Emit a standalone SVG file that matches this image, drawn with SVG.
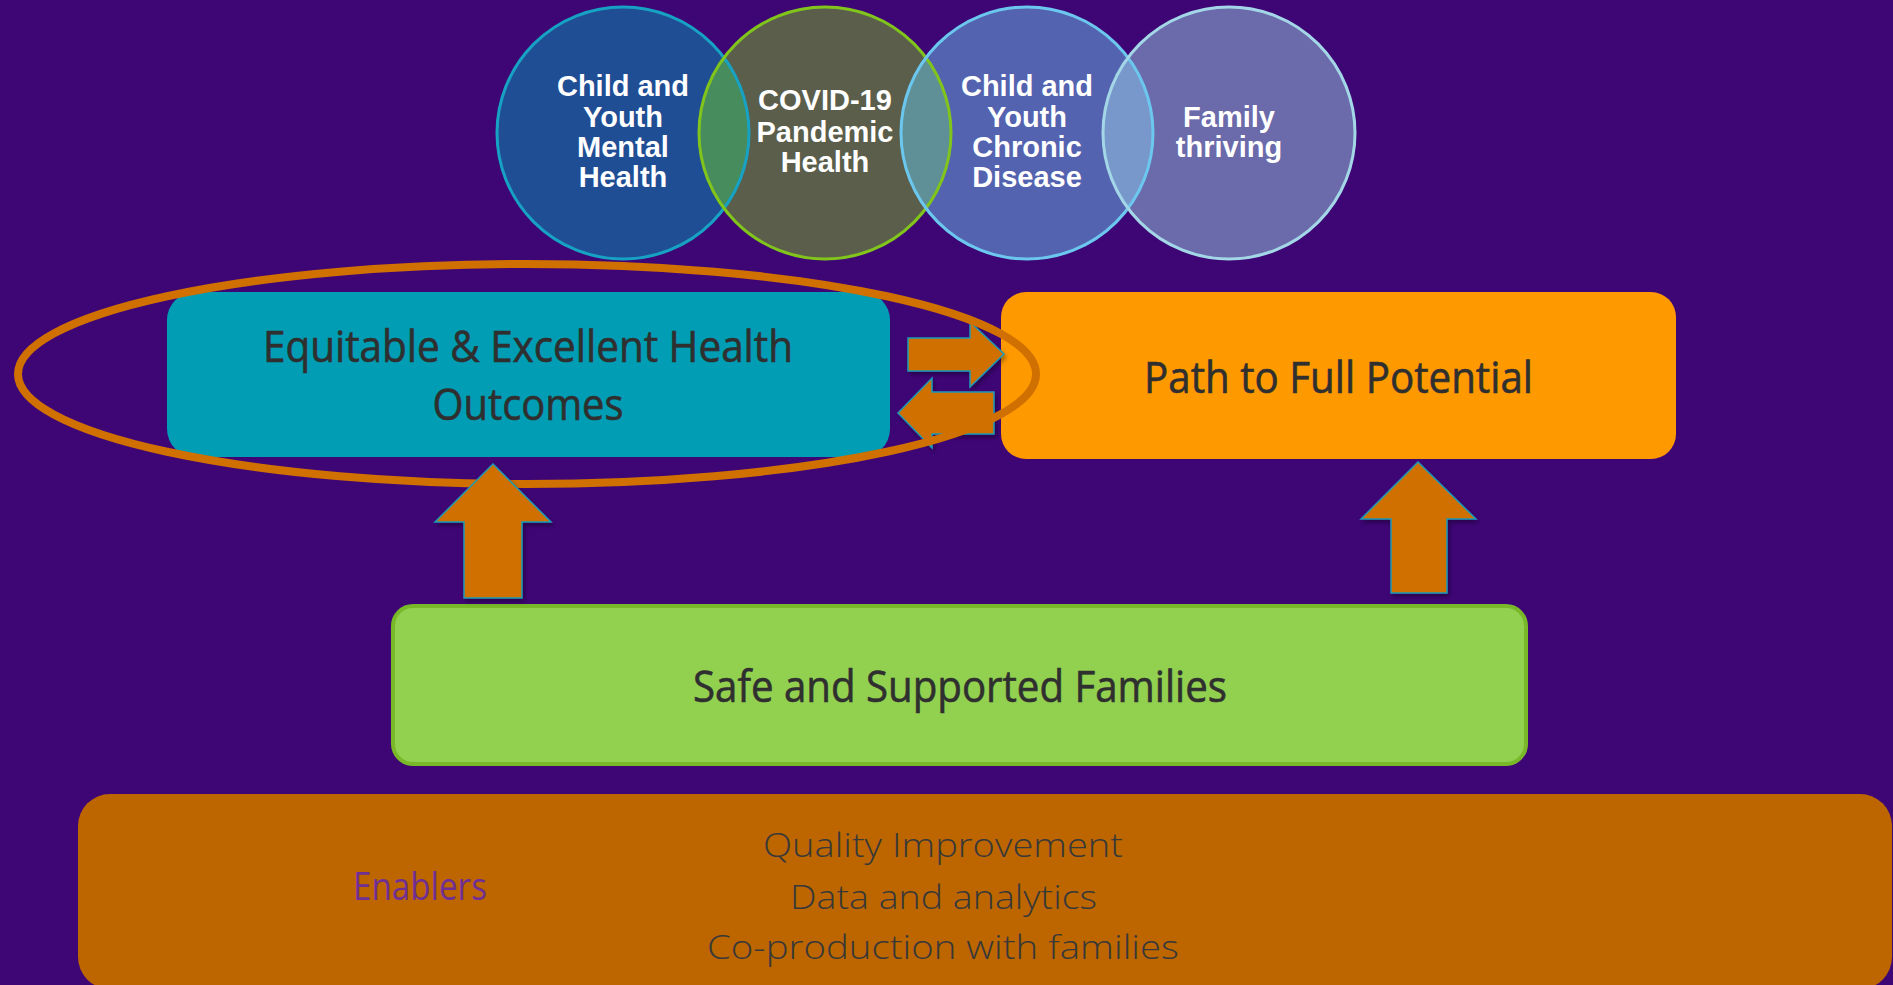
<svg xmlns="http://www.w3.org/2000/svg" width="1893" height="985" viewBox="0 0 1893 985">
<style>
.ctext{font-family:"Liberation Sans",Arial,sans-serif;font-weight:bold;font-size:29px;fill:#ffffff;text-anchor:middle}
.btext{font-family:"Open Sans","Noto Sans",sans-serif;font-size:43px;fill:#2f2f2f;stroke:#2f2f2f;stroke-width:0.6;text-anchor:middle}
.etext{font-family:"Open Sans","Noto Sans",sans-serif;font-size:33.5px;font-weight:300;fill:#383838;text-anchor:middle}
.arrow{fill:#cf6f00;stroke:#1e9bb6;stroke-width:1.5;filter:url(#sh)}
.cstroke{fill:none;stroke-width:3}
</style>
<defs>
<filter id="sh" x="-20%" y="-20%" width="140%" height="140%">
<feDropShadow dx="2" dy="3" stdDeviation="2" flood-color="#000" flood-opacity="0.35"/>
</filter>
<clipPath id="c1"><circle cx="623" cy="133" r="127"/></clipPath>
<clipPath id="c2"><circle cx="825" cy="133" r="127"/></clipPath>
<clipPath id="c3"><circle cx="1027" cy="133" r="127"/></clipPath>
</defs>
<rect x="0" y="0" width="1893" height="985" fill="#3e0575"/>

<g id="enablers">
<rect x="78" y="794" width="1814" height="195" rx="32" fill="#bd6600"/>
<text x="353" y="900" font-family="'Open Sans','Noto Sans',sans-serif" font-size="38" fill="#702f92" textLength="134" lengthAdjust="spacingAndGlyphs">Enablers</text>
<text class="etext" x="943" y="857" textLength="360" lengthAdjust="spacingAndGlyphs">Quality Improvement</text>
<text class="etext" x="943.5" y="909" textLength="307" lengthAdjust="spacingAndGlyphs">Data and analytics</text>
<text class="etext" x="943" y="959" textLength="472" lengthAdjust="spacingAndGlyphs">Co-production with families</text>
</g>

<g id="circles">
<g id="circle-mental-health"><circle cx="623" cy="133" r="127" fill="#1f4e95"/></g>
<g id="circle-covid"><circle cx="825" cy="133" r="127" fill="#5a5e4a"/></g>
<g id="circle-chronic"><circle cx="1027" cy="133" r="127" fill="#5463b0"/></g>
<g id="circle-family"><circle cx="1229" cy="133" r="127" fill="#6b6aaa"/></g>
<circle cx="825" cy="133" r="127" fill="#468c5c" clip-path="url(#c1)"/>
<circle cx="1027" cy="133" r="127" fill="#5f9098" clip-path="url(#c2)"/>
<circle cx="1229" cy="133" r="127" fill="#7898cb" clip-path="url(#c3)"/>
<circle class="cstroke" cx="623" cy="133" r="126" stroke="#17a2c4"/>
<circle class="cstroke" cx="825" cy="133" r="126" stroke="#80c41c"/>
<circle class="cstroke" cx="1027" cy="133" r="126" stroke="#6cc7ee"/>
<circle class="cstroke" cx="1229" cy="133" r="126" stroke="#a3d6e6"/>
<text class="ctext" x="623" y="96">Child and</text>
<text class="ctext" x="623" y="127">Youth</text>
<text class="ctext" x="623" y="157">Mental</text>
<text class="ctext" x="623" y="187">Health</text>
<text class="ctext" x="825" y="110">COVID-19</text>
<text class="ctext" x="825" y="142">Pandemic</text>
<text class="ctext" x="825" y="172">Health</text>
<text class="ctext" x="1027" y="96">Child and</text>
<text class="ctext" x="1027" y="127">Youth</text>
<text class="ctext" x="1027" y="157">Chronic</text>
<text class="ctext" x="1027" y="187">Disease</text>
<text class="ctext" x="1229" y="127">Family</text>
<text class="ctext" x="1229" y="157">thriving</text>
</g>

<g id="health-outcomes">
<rect x="167" y="292" width="723" height="165" rx="28" fill="#019db4"/>
<text class="btext" x="528" y="362" textLength="530" lengthAdjust="spacingAndGlyphs">Equitable &amp; Excellent Health</text>
<text class="btext" x="528" y="420" textLength="191" lengthAdjust="spacingAndGlyphs">Outcomes</text>
</g>

<g id="full-potential">
<rect x="1001" y="292" width="675" height="167" rx="25" fill="#ff9900"/>
<text class="btext" x="1338.5" y="393" textLength="389" lengthAdjust="spacingAndGlyphs">Path to Full Potential</text>
</g>

<g id="safe-families">
<rect x="393" y="606" width="1133" height="158" rx="20" fill="#92d050" stroke="#79b829" stroke-width="4"/>
<text class="btext" x="960" y="702" textLength="534" lengthAdjust="spacingAndGlyphs">Safe and Supported Families</text>
</g>

<g id="connectors">
<polygon class="arrow" points="908,338 970,338 970,322 1004,354 970,387 970,371 908,371"/>
<polygon class="arrow" points="898,413 932,378 932,392 994,392 994,434 932,434 932,448"/>
<ellipse id="highlight" cx="527" cy="374" rx="509" ry="110" fill="none" stroke="#d07000" stroke-width="8"/>
<polygon class="arrow" points="493,464 551,522 522,522 522,598 464,598 464,522 435,522"/>
<polygon class="arrow" points="1418,462 1476,519 1447,519 1447,593 1391,593 1391,519 1361,519"/>
</g>
</svg>
